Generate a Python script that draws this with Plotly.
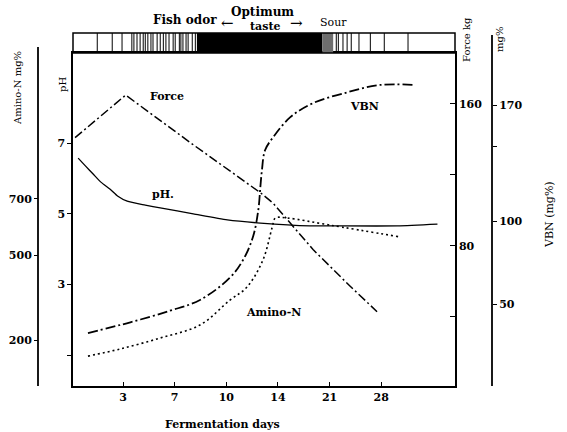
import plotly.graph_objects as go

# ---------------- data ----------------
# x positions are category positions of the (non-linear) fermentation-day axis
x_ticks = [1, 2, 3, 4, 5, 6]
x_labels = ['3', '7', '10', '14', '21', '28']

force_x = [0.07, 1.05, 2.36, 3.66, 3.91, 4.18, 4.68, 5.34, 5.92]
force_y = [141, 165, 137, 110, 104, 95, 78, 59, 43]

ph_x = [0.13, 0.27, 0.42, 0.57, 0.75, 0.90, 1.08, 1.43, 1.72, 2.36, 3.02, 3.66, 4.62, 5.01, 6.31, 7.09]
ph_y = [6.58, 6.36, 6.13, 5.90, 5.70, 5.50, 5.36, 5.25, 5.17, 5.00, 4.83, 4.74, 4.66, 4.66, 4.66, 4.71]

vbn_x = [0.32, 1.14, 1.91, 2.49, 3.07, 3.33, 3.52, 3.62, 3.66, 3.69, 3.75, 3.91,
         4.24, 4.68, 5.34, 5.98, 6.66]
vbn_y = [32.5, 39, 46, 52.5, 66, 77, 91, 107, 121, 131, 143, 151, 163, 171.5,
         178, 182.5, 182.5]

amino_x = [0.32, 0.94, 1.72, 2.49, 3.07, 3.40, 3.71, 3.89, 3.95, 4.18, 5.01, 6.37]
amino_y = [144, 169, 208, 254, 342, 388, 484, 600, 632, 632, 607, 565]

ph_ticks = [1, 3, 5, 7]
ph_labels = ['', '3', '5', '7']
force_ticks = [40, 80, 120, 160]
force_labels = ['', '80', '', '160']
vbn_ticks = [50, 100, 145, 170]
vbn_labels = ['50', '100', '', '170']
amino_ticks = [200, 500, 700]
amino_labels = ['200', '500', '700']

# taste band: thin stripes, solid "optimum" zone and a grey transition zone
stripes = [0.50, 0.79, 0.98, 1.17, 1.21, 1.27, 1.33, 1.39, 1.43, 1.48, 1.54, 1.58,
           1.66, 1.72, 1.78, 1.83, 1.89, 1.97, 2.01, 2.09, 2.12, 2.16, 2.22, 2.26,
           2.34, 2.40, 5.13, 5.17, 5.26, 5.34, 5.42, 5.57, 5.79, 6.06, 6.52]
optimum_zone = [2.43, 4.86]
grey_zone = [4.86, 5.07]

# ---------------- layout helpers ----------------
W, H = 567, 432
def px(x):
    return x / W
def py(y):
    return 1 - y / H

FONT = "DejaVu Serif"
tickfont = dict(family=FONT, size=11, color='black', weight='bold')

fig = go.Figure()

# band
sx, sy = [], []
for s in stripes:
    sx += [s, s, None]
    sy += [0, 1, None]
fig.add_trace(go.Scatter(x=sx, y=sy, mode='lines', line=dict(color='black', width=1),
                         xaxis='x', yaxis='y5', hoverinfo='skip', showlegend=False))
fig.add_trace(go.Scatter(x=[optimum_zone[0], optimum_zone[1], optimum_zone[1], optimum_zone[0], optimum_zone[0]],
                         y=[0, 0, 1, 1, 0], mode='lines', fill='toself', fillcolor='black',
                         line=dict(width=0, color='black'), xaxis='x', yaxis='y5', showlegend=False))
fig.add_trace(go.Scatter(x=[grey_zone[0], grey_zone[1], grey_zone[1], grey_zone[0], grey_zone[0]],
                         y=[0, 0, 1, 1, 0], mode='lines', fill='toself', fillcolor='#6e6e6e',
                         line=dict(width=0, color='#6e6e6e'), xaxis='x', yaxis='y5', showlegend=False))

# curves
fig.add_trace(go.Scatter(x=ph_x, y=ph_y, mode='lines',
                         line=dict(color='black', width=1.3, shape='spline', smoothing=0.6),
                         xaxis='x', yaxis='y', showlegend=False))
fig.add_trace(go.Scatter(x=force_x, y=force_y, mode='lines',
                         line=dict(color='black', width=1.5, dash='9px,3px,2px,3px'),
                         xaxis='x', yaxis='y2', showlegend=False))
fig.add_trace(go.Scatter(x=vbn_x, y=vbn_y, mode='lines',
                         line=dict(color='black', width=1.8, dash='10px,3px,2px,3px', shape='spline'),
                         xaxis='x', yaxis='y3', showlegend=False))
fig.add_trace(go.Scatter(x=amino_x, y=amino_y, mode='lines',
                         line=dict(color='black', width=1.6, dash='2px,3px', shape='spline'),
                         xaxis='x', yaxis='y4', showlegend=False))

main_dom = [py(386), py(53)]

fig.update_layout(
    width=W, height=H, margin=dict(l=0, r=0, t=0, b=0, autoexpand=False),
    paper_bgcolor='white', plot_bgcolor='white',
    font=dict(family=FONT, color='black'),
    xaxis=dict(domain=[px(73), px(455)], range=[0.03, 7.43], tickvals=x_ticks, ticktext=x_labels,
               ticks='inside', ticklen=4, tickcolor='black', showline=True, mirror=True,
               linecolor='black', linewidth=1.5, showgrid=False, zeroline=False,
               tickfont=tickfont, anchor='y'),
    yaxis=dict(domain=main_dom, range=[0.125, 9.558], tickvals=ph_ticks, ticktext=ph_labels,
               ticks='outside', ticklen=4, tickcolor='black', showline=True, linecolor='black',
               linewidth=1.5, showgrid=False, zeroline=False, tickfont=tickfont, anchor='x'),
    yaxis2=dict(overlaying='y', side='right', anchor='x', range=[1.13, 188.7],
                tickvals=force_ticks, ticktext=force_labels, ticks='inside', ticklen=5,
                tickcolor='black', showline=True, linecolor='black', linewidth=1.5,
                showgrid=False, zeroline=False, tickfont=tickfont),
    yaxis3=dict(overlaying='y', side='right', anchor='free', position=px(492), range=[0.5, 201.8],
                tickvals=vbn_ticks, ticktext=vbn_labels, ticks='outside', ticklen=4,
                tickcolor='black', showline=False, showgrid=False, zeroline=False, tickfont=tickfont),
    yaxis4=dict(overlaying='y', side='left', anchor='free', position=px(38), range=[38.3, 1215.4],
                tickvals=amino_ticks, ticktext=amino_labels, ticks='outside', ticklen=4,
                tickcolor='black', showline=False, showgrid=False, zeroline=False, tickfont=tickfont),
    yaxis5=dict(domain=[py(53), py(33)], range=[0, 1], anchor='x', showticklabels=False,
                showgrid=False, zeroline=False, ticks='', showline=False, fixedrange=True),
)

# band border and separate axis lines
fig.add_shape(type='rect', xref='paper', yref='paper', x0=px(73), x1=px(455), y0=py(53), y1=py(33),
              line=dict(color='black', width=1.5))
fig.add_shape(type='line', xref='paper', yref='paper', x0=px(38), x1=px(38), y0=py(386), y1=py(47),
              line=dict(color='black', width=1.8))
fig.add_shape(type='line', xref='paper', yref='paper', x0=px(492), x1=px(492), y0=py(386), y1=py(35),
              line=dict(color='black', width=1.8))

def ann(text, x, y, size=11, bold=True, angle=0):
    fig.add_annotation(text=text, x=px(x), y=py(y), xref='paper', yref='paper', showarrow=False,
                       textangle=angle, xanchor='center', yanchor='middle',
                       font=dict(family=FONT, size=size, color='black', weight='bold' if bold else 'normal'))

ann('Fish odor', 185, 20, size=12)
ann('←', 227, 23, size=15, bold=False)
ann('Optimum', 262, 12, size=12)
ann('taste', 265, 26, size=11)
ann('→', 296, 23, size=15, bold=False)
ann('Sour', 333, 23, size=11, bold=False)
ann('Force kg', 467, 40, size=10, bold=False, angle=-90)
ann('mg%', 500, 40, size=10, bold=False, angle=-90)
ann('VBN (mg%)', 550, 215, size=11, bold=False, angle=-90)
ann('Amino-N mg%', 17, 88, size=10, bold=False, angle=-90)
ann('pH', 62, 85, size=10, bold=False, angle=-90)
ann('Fermentation days', 222, 424)
ann('Force', 167, 97)
ann('pH.', 163, 195)
ann('VBN', 364, 107)
ann('Amino-N', 273, 312)

fig.write_html("out.html")
